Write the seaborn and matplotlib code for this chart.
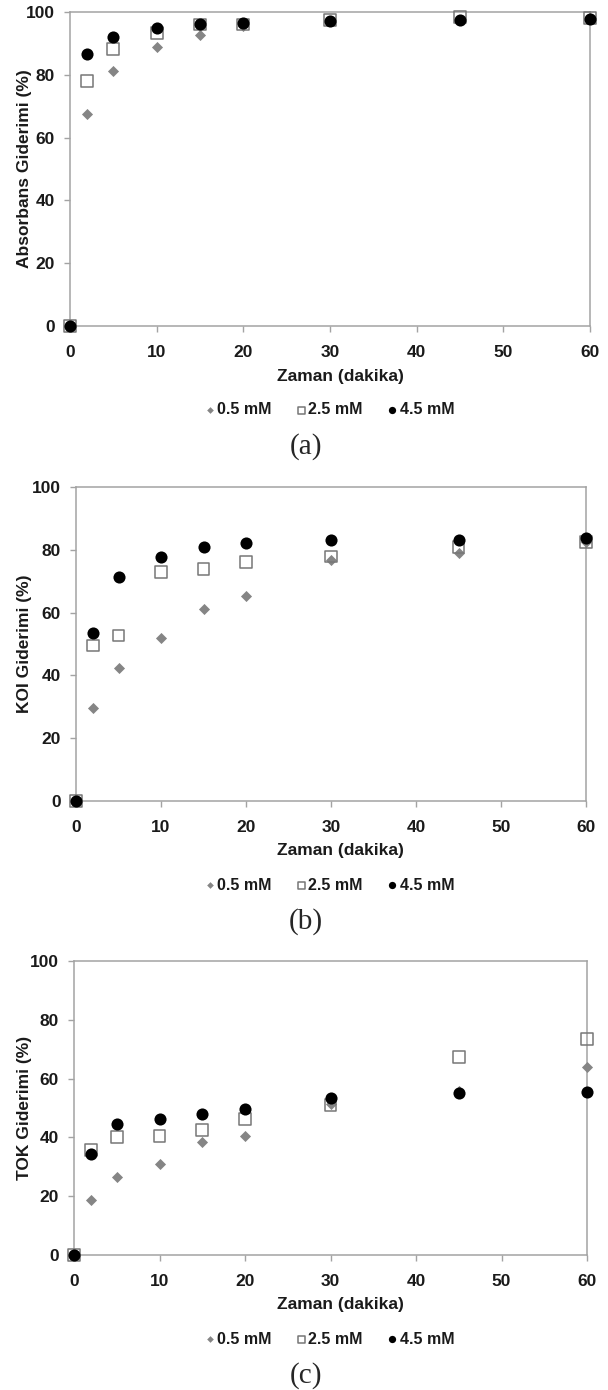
import numpy as np
import pandas as pd
import matplotlib
matplotlib.use("Agg")
import matplotlib.pyplot as plt
import seaborn as sns

# Sampling times (minutes)
time_min = [0, 2, 5, 10, 15, 20, 30, 45, 60]

# (a) Absorbance removal (%)
abs_05 = [0, 67.6, 81.3, 89.0, 92.8, 95.5, 97.0, 97.5, 98.0]
abs_25 = [0, 78.0, 88.3, 93.3, 96.0, 96.0, 97.5, 98.3, 98.0]
abs_45 = [0, 86.7, 92.0, 95.0, 96.2, 96.6, 97.2, 97.4, 97.7]

# (b) COD (KOI) removal (%)
koi_05 = [0, 29.5, 42.3, 52.0, 61.3, 65.3, 76.8, 78.9, 82.5]
koi_25 = [0, 49.5, 52.7, 72.9, 73.9, 76.0, 77.9, 81.0, 82.6]
koi_45 = [0, 53.6, 71.3, 77.7, 80.9, 82.1, 83.0, 83.0, 83.6]

# (c) TOC (TOK) removal (%)
tok_05 = [0, 18.7, 26.7, 30.9, 38.6, 40.5, 51.2, 55.8, 64.0]
tok_25 = [0, 35.6, 40.2, 40.5, 42.4, 46.2, 51.0, 67.4, 73.6]
tok_45 = [0, 34.4, 44.5, 46.4, 47.9, 49.5, 53.5, 55.0, 55.3]

series_labels = ["0.5 mM", "2.5 mM", "4.5 mM"]
y_labels = ["Absorbans Giderimi (%)", "KOI Giderimi (%)", "TOK Giderimi (%)"]
captions = ["(a)", "(b)", "(c)"]
x_title = "Zaman (dakika)"
x_ticks = [0, 10, 20, 30, 40, 50, 60]
y_ticks = [0, 20, 40, 60, 80, 100]

panels = [
    (abs_05, abs_25, abs_45),
    (koi_05, koi_25, koi_45),
    (tok_05, tok_25, tok_45),
]

sns.set_theme(style="white")
plt.rcParams["font.family"] = ["Liberation Sans", "DejaVu Sans"]

W, H = 608, 1390
fig = plt.figure(figsize=(W / 100, H / 100), dpi=100)

# plot-area boxes in pixels: left, right, top, bottom
boxes = [
    (70, 590, 12, 326),
    (76, 586, 487, 801),
    (74, 587, 961, 1255),
]

spine_col = "#a3a3a3"
gray = "#858585"
text_col = "#1a1a1a"

for (ys, ylab, cap, (l, r, t, b)) in zip(panels, y_labels, captions, boxes):
    ax = fig.add_axes([l / W, 1 - b / H, (r - l) / W, (b - t) / H])
    df = pd.DataFrame({"t": time_min, "c05": ys[0], "c25": ys[1], "c45": ys[2]})

    sns.scatterplot(data=df, x="t", y="c05", marker="D", s=32, color=gray,
                    edgecolor=gray, linewidth=0, ax=ax, label=series_labels[0],
                    legend=False, clip_on=False, zorder=3)
    sns.scatterplot(data=df, x="t", y="c25", marker="s", s=72, facecolors="none",
                    edgecolors="#777777", linewidth=1.1, ax=ax,
                    label=series_labels[1], legend=False, clip_on=False, zorder=4)
    sns.scatterplot(data=df, x="t", y="c45", marker="o", s=76, color="black",
                    edgecolor="black", linewidth=0, ax=ax, label=series_labels[2],
                    legend=False, clip_on=False, zorder=5)

    ax.set_xlim(0, 60)
    ax.set_ylim(0, 100)
    ax.set_xticks(x_ticks)
    ax.set_yticks(y_ticks)
    ax.set_xticklabels([str(v) for v in x_ticks], fontsize=12.5, fontweight="bold",
                       color=text_col)
    ax.set_yticklabels([str(v) for v in y_ticks], fontsize=12.5, fontweight="bold",
                       color=text_col)
    ax.tick_params(axis="x", direction="out", length=4, width=1, color=spine_col,
                   pad=10, bottom=True)
    ax.tick_params(axis="y", direction="out", length=4, width=1, color=spine_col,
                   pad=7, left=True)
    for sp in ax.spines.values():
        sp.set_visible(True)
        sp.set_color(spine_col)
        sp.set_linewidth(1.1)

    ax.set_xlabel(x_title, fontsize=12.5, fontweight="bold", color=text_col)
    ax.set_ylabel(ylab, fontsize=12.5, fontweight="bold", color=text_col)
    ax.xaxis.label.set_va("center")
    ax.yaxis.label.set_va("center")
    ax.xaxis.set_label_coords((340 - l) / (r - l), -50 / (b - t))
    ax.yaxis.set_label_coords((25 - l) / (r - l), 0.5)

    handles, labels = ax.get_legend_handles_labels()
    ax.legend(handles, labels, loc="center", ncol=3, frameon=False,
              bbox_to_anchor=(330 / W, 1 - (b + 84) / H),
              bbox_transform=fig.transFigure, markerscale=0.6,
              handlelength=0.5, handletextpad=0.2, columnspacing=1.6,
              prop={"size": 11.5, "weight": "bold"})
    for txt in ax.get_legend().get_texts():
        txt.set_color(text_col)

    fig.text(306 / W, 1 - (b + 121) / H, cap, ha="center", va="center",
             fontsize=21, family=["Liberation Serif", "DejaVu Serif"])

fig.savefig("out.png", dpi=100)
